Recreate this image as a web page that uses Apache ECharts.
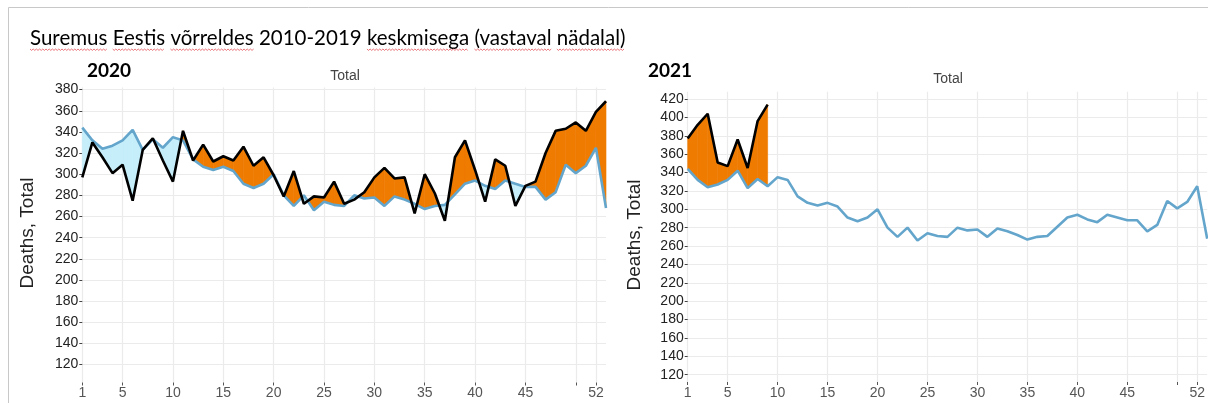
<!DOCTYPE html>
<html>
<head>
<meta charset="utf-8">
<script src="https://cdn.jsdelivr.net/npm/echarts@6/dist/echarts.min.js"></script>
<style>
    html, body { margin: 0; padding: 0; background: #fff; }
    #chart { width: 1208px; height: 403px; }
</style>
</head>
<body>
<div id="chart"></div>
<script>
// nädalad (ISO weeks, 2020 had 53)
var weeks = ['1', '2', '3', '4', '5', '6', '7', '8', '9', '10', '11', '12', '13', '14', '15', '16', '17', '18',
    '19', '20', '21', '22', '23', '24', '25', '26', '27', '28', '29', '30', '31', '32', '33', '34', '35', '36',
    '37', '38', '39', '40', '41', '42', '43', '44', '45', '46', '47', '48', '49', '50', '51', '52', '53'];

// 2010-2019 average per week
var baseline = [344, 332, 324, 327, 332, 342, 323, 333, 325, 335, 332, 314, 307, 304, 307, 303, 291, 287,
    291, 300, 280, 270, 280, 266, 274, 271, 270, 280, 277, 278, 270, 279, 276, 272, 267, 270,
    271, 281, 291, 294, 289, 286, 294, 291, 288, 288, 276, 283, 309, 301, 308, 325, 268];

var deaths2020 = [297, 330, 316, 301, 309, 275, 323, 334, 313, 293, 341, 313, 328, 312, 317, 313, 326, 308,
    316, 299, 279, 303, 272, 279, 278, 293, 272, 276, 283, 297, 306, 296, 297, 263, 300, 282,
    256, 316, 332, 304, 274, 314, 308, 270, 289, 293, 320, 341, 343, 349, 341, 359, 369];

var deaths2021 = [377, 392, 404, 351, 347, 376, 345, 396, 414];

var labelWeeks = ['1', '5', '10', '15', '20', '25', '30', '35', '40', '45', '52'];
var tickWeeks = ['1', '5', '10', '15', '20', '25', '30', '35', '40', '45', '50', '52'];

var titleText = 'Suremus Eestis võrreldes 2010-2019 keskmisega (vastaval nädalal)';
var misspelled = ['Suremus', 'Eestis', 'võrreldes', 'keskmisega', '(vastaval', 'nädalal)'];

var ORANGE = '#ef7b00';
var LIGHT = '#c5eefa';
var BLUE = '#64a5cc';
var GRID = '#ebebeb';
var AXIS_FONT = 'Liberation Sans, Arial, sans-serif';
var TITLE_FONT_FAMILY = 'Lato, sans-serif';
var TITLE_SIZE = 20.5;

var chart = echarts.init(document.getElementById('chart'));

function poly(points, color) {
    return {
        type: 'polygon',
        shape: {points: points},
        style: {fill: color, stroke: color, lineWidth: 0.6}
    };
}

// fills the band between actual and baseline, orange above / light blue below
function fillRenderer(actual, base) {
    return function (params, api) {
        var i = params.dataIndex;
        if (i >= actual.length - 1) return null;
        var a0 = api.coord([i, actual[i]]), b0 = api.coord([i, base[i]]);
        var a1 = api.coord([i + 1, actual[i + 1]]), b1 = api.coord([i + 1, base[i + 1]]);
        var d0 = actual[i] - base[i], d1 = actual[i + 1] - base[i + 1];
        var children = [];
        if (d0 * d1 >= 0) {
            children.push(poly([a0, a1, b1, b0], (d0 + d1) >= 0 ? ORANGE : LIGHT));
        } else {
            var t = d0 / (d0 - d1);
            var c = [a0[0] + t * (a1[0] - a0[0]), a0[1] + t * (a1[1] - a0[1])];
            children.push(poly([a0, c, b0], d0 > 0 ? ORANGE : LIGHT));
            children.push(poly([c, a1, b1], d1 > 0 ? ORANGE : LIGHT));
        }
        return {type: 'group', children: children};
    };
}

function xAxisFor(gridIndex) {
    return {
        type: 'category',
        gridIndex: gridIndex,
        data: weeks,
        boundaryGap: false,
        axisLine: {show: false},
        axisTick: {
            show: true, length: 3,
            interval: function (i, v) { return tickWeeks.indexOf(v) >= 0; },
            lineStyle: {color: '#555'}
        },
        axisLabel: {
            margin: 4, color: '#555', fontSize: 14, fontFamily: AXIS_FONT,
            interval: function (i, v) { return labelWeeks.indexOf(v) >= 0; }
        },
        splitLine: {
            show: true,
            interval: function (i, v) { return tickWeeks.indexOf(v) >= 0; },
            lineStyle: {color: GRID, width: 1.2}
        }
    };
}

function yAxisFor(gridIndex, min, max) {
    return {
        type: 'value',
        gridIndex: gridIndex,
        min: min, max: max,
        minInterval: 20, maxInterval: 20,
        axisLine: {show: false},
        axisTick: {show: true, length: 3, lineStyle: {color: '#444'}},
        axisLabel: {
            margin: 4, color: '#222', fontSize: 14, fontFamily: AXIS_FONT,
            showMinLabel: false, showMaxLabel: false
        },
        splitLine: {show: true, showMinLine: false, showMaxLine: false, lineStyle: {color: GRID, width: 1.2}}
    };
}

function squiggles(x0, y0) {
    var ctx = document.createElement('canvas').getContext('2d');
    ctx.font = TITLE_SIZE + 'px ' + TITLE_FONT_FAMILY;
    var space = ctx.measureText(' ').width;
    var x = x0, els = [];
    titleText.split(' ').forEach(function (w) {
        var wWidth = ctx.measureText(w).width;
        if (misspelled.indexOf(w) >= 0) {
            var pts = [];
            for (var px = 0, j = 0; px <= wWidth; px += 1.6, j++) {
                pts.push([x + px, y0 + (j % 2 ? 1.4 : 0)]);
            }
            els.push({type: 'polyline', shape: {points: pts}, style: {stroke: '#e5535a', lineWidth: 0.8, fill: null}});
        }
        x += wWidth + space;
    });
    return els;
}

function textEl(x, y, text, size, weight, color, family, align, rotation) {
    return {
        type: 'text', x: x, y: y, rotation: rotation || 0,
        style: {
            text: text, fontSize: size, fontWeight: weight, fill: color, fontFamily: family,
            align: align, verticalAlign: 'middle'
        }
    };
}

var graphics = [
    {type: 'line', shape: {x1: 8.5, y1: 7.5, x2: 1208, y2: 7.5}, style: {stroke: '#c8c8c8', lineWidth: 1}},
    {type: 'line', shape: {x1: 8.5, y1: 7.5, x2: 8.5, y2: 403}, style: {stroke: '#c8c8c8', lineWidth: 1}},
    textEl(30, 38, titleText, TITLE_SIZE, 'normal', '#000', TITLE_FONT_FAMILY, 'left'),
    textEl(87, 71, '2020', 19, 'bold', '#000', TITLE_FONT_FAMILY, 'left'),
    textEl(648, 71, '2021', 19, 'bold', '#000', TITLE_FONT_FAMILY, 'left'),
    textEl(345, 76, 'Total', 14, 'normal', '#444', AXIS_FONT, 'center'),
    textEl(948, 79, 'Total', 14, 'normal', '#444', AXIS_FONT, 'center'),
    textEl(28, 233, 'Deaths, Total', 19, 'normal', '#222', AXIS_FONT, 'center', Math.PI / 2),
    textEl(635, 235, 'Deaths, Total', 19, 'normal', '#222', AXIS_FONT, 'center', Math.PI / 2)
].concat(squiggles(30, 49));

var option = {
    animation: false,
    backgroundColor: '#fff',
    grid: [
        {left: 82.3, top: 87.5, width: 523.7, height: 295},
        {left: 687.7, top: 91.7, width: 521.6, height: 290.3}
    ],
    xAxis: [xAxisFor(0), xAxisFor(1)],
    yAxis: [yAxisFor(0, 103, 382), yAxisFor(1, 112, 428)],
    graphic: graphics,
    series: [
        {
            type: 'custom', xAxisIndex: 0, yAxisIndex: 0, z: 1,
            data: deaths2020.map(function (v, i) { return [i, v, baseline[i]]; }),
            encode: {x: 0, y: [1, 2]},
            renderItem: fillRenderer(deaths2020, baseline)
        },
        {
            type: 'line', xAxisIndex: 0, yAxisIndex: 0, z: 2, data: baseline,
            showSymbol: false, lineStyle: {color: BLUE, width: 2.6}
        },
        {
            type: 'line', xAxisIndex: 0, yAxisIndex: 0, z: 3, data: deaths2020,
            showSymbol: false, lineStyle: {color: '#000', width: 2.6}
        },
        {
            type: 'custom', xAxisIndex: 1, yAxisIndex: 1, z: 1,
            data: deaths2021.map(function (v, i) { return [i, v, baseline[i]]; }),
            encode: {x: 0, y: [1, 2]},
            renderItem: fillRenderer(deaths2021, baseline)
        },
        {
            type: 'line', xAxisIndex: 1, yAxisIndex: 1, z: 2, data: baseline,
            showSymbol: false, lineStyle: {color: BLUE, width: 2.6}
        },
        {
            type: 'line', xAxisIndex: 1, yAxisIndex: 1, z: 3, data: deaths2021,
            showSymbol: false, lineStyle: {color: '#000', width: 2.6}
        }
    ]
};

chart.setOption(option);
</script>
</body>
</html>
